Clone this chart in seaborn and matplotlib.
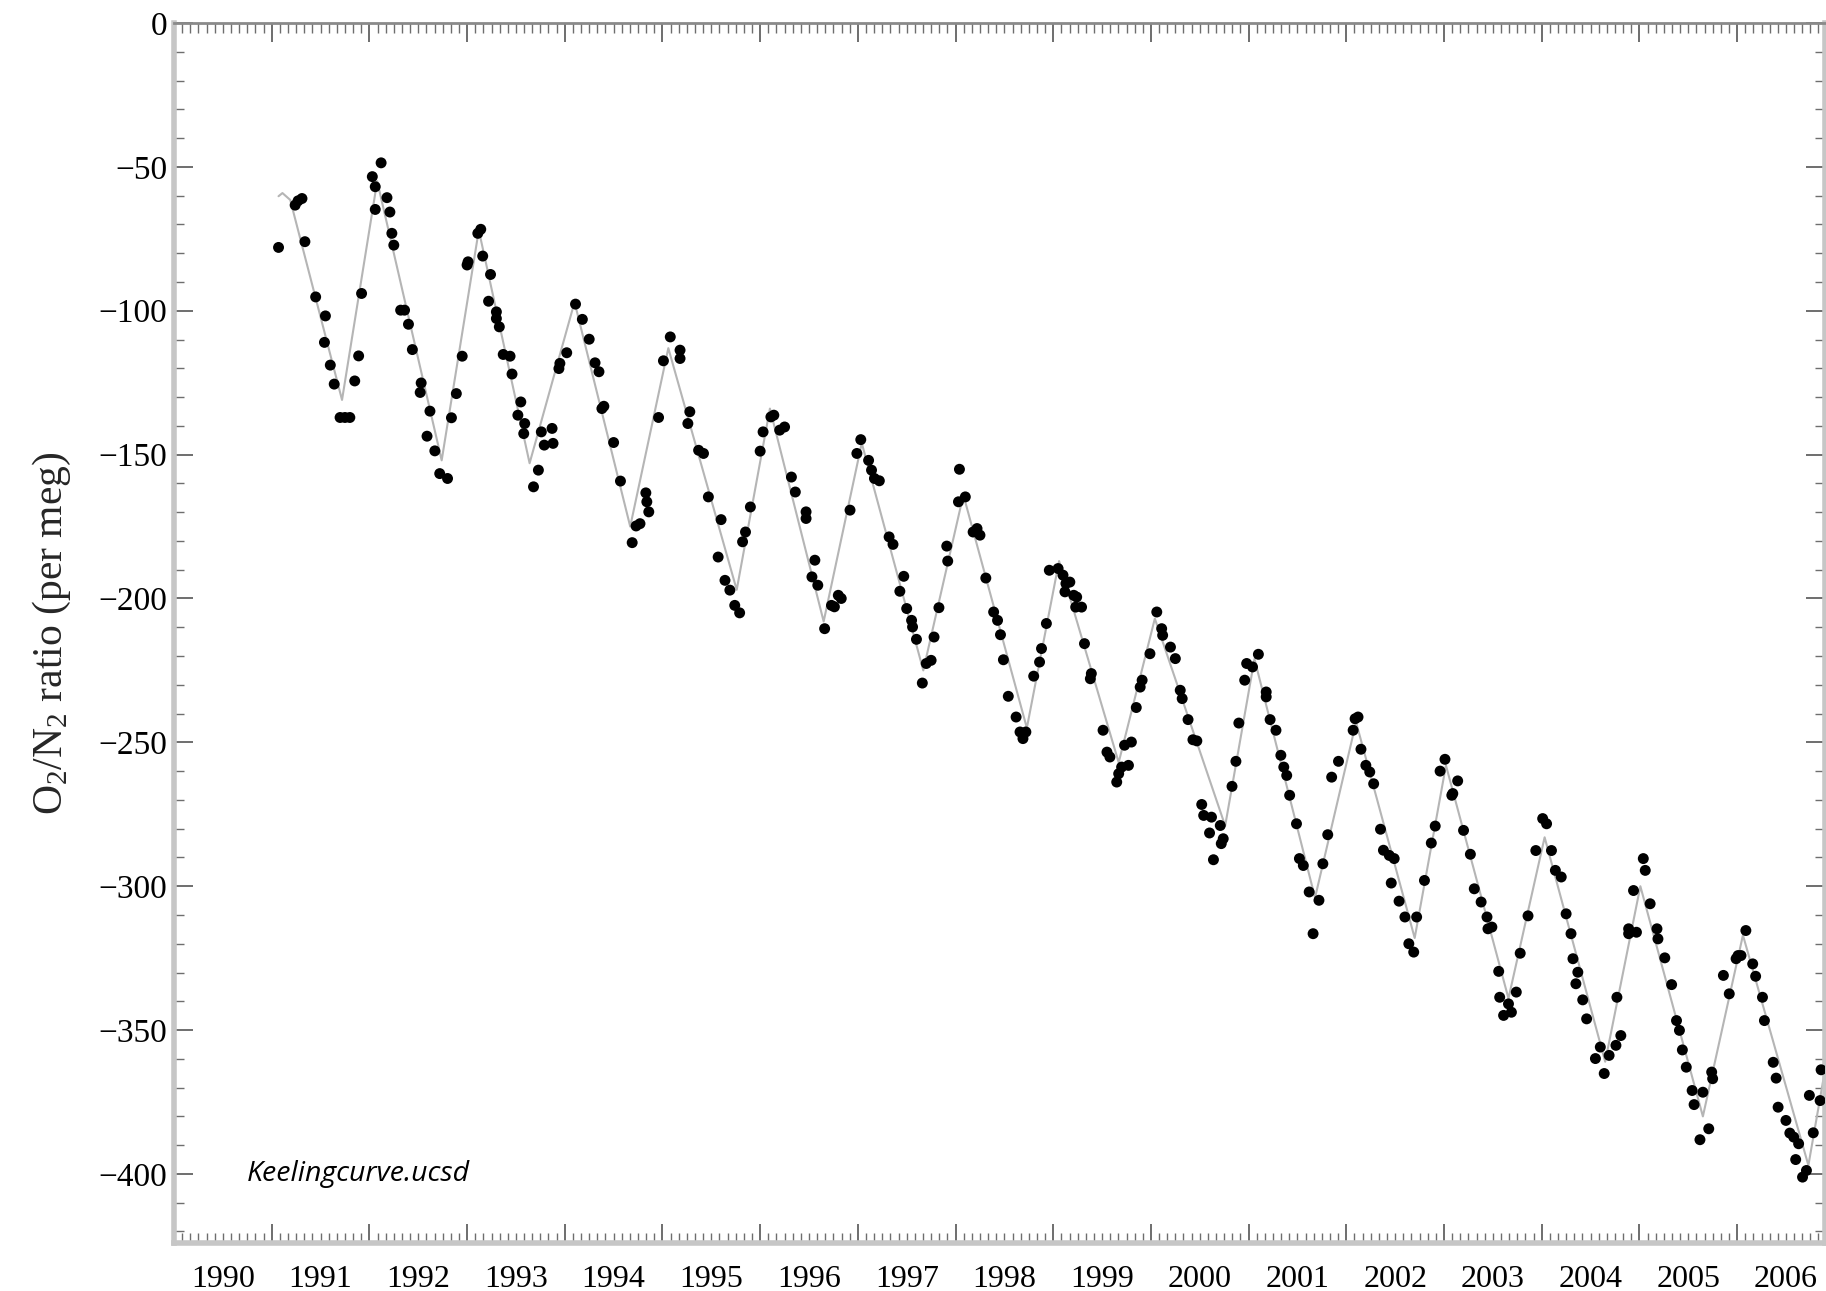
import numpy as np
import pandas as pd
import matplotlib
matplotlib.use("Agg")
import matplotlib.pyplot as plt
import seaborn as sns
from matplotlib.ticker import MultipleLocator, NullLocator

# Flask samples: decimal year and O2/N2 ratio (per meg)
obs_year = [
    1991.07, 1991.24, 1991.27, 1991.31, 1991.34, 1991.45, 1991.55, 1991.54, 1991.60, 1991.64,
    1991.70, 1991.75, 1991.80, 1991.85, 1991.89, 1991.92,
    1992.03, 1992.06, 1992.06, 1992.12, 1992.18, 1992.21, 1992.23, 1992.25, 1992.32, 1992.36,
    1992.40, 1992.44, 1992.52, 1992.53, 1992.59, 1992.62, 1992.67, 1992.72, 1992.80, 1992.84,
    1992.89, 1992.95,
    1993.00, 1993.01, 1993.11, 1993.14, 1993.16, 1993.22, 1993.24, 1993.30, 1993.30, 1993.33,
    1993.37, 1993.44, 1993.46, 1993.52, 1993.55, 1993.58, 1993.59, 1993.68, 1993.73, 1993.76,
    1993.79, 1993.87, 1993.88, 1993.94, 1993.95,
    1994.02, 1994.11, 1994.18, 1994.25, 1994.31, 1994.35, 1994.38, 1994.40, 1994.50, 1994.57,
    1994.69, 1994.73, 1994.77, 1994.83, 1994.84, 1994.86, 1994.96,
    1995.01, 1995.08, 1995.18, 1995.18, 1995.26, 1995.28, 1995.37, 1995.42, 1995.47, 1995.57,
    1995.60, 1995.64, 1995.69, 1995.74, 1995.79, 1995.82, 1995.85, 1995.90,
    1996.00, 1996.03, 1996.11, 1996.14, 1996.20, 1996.25, 1996.32, 1996.36, 1996.47, 1996.47,
    1996.53, 1996.56, 1996.59, 1996.66, 1996.73, 1996.76, 1996.80, 1996.83, 1996.92, 1996.99,
    1997.03, 1997.11, 1997.14, 1997.17, 1997.22, 1997.32, 1997.36, 1997.43, 1997.47, 1997.50,
    1997.55, 1997.56, 1997.60, 1997.66, 1997.70, 1997.75, 1997.78, 1997.83, 1997.91, 1997.92,
    1998.03, 1998.04, 1998.10, 1998.18, 1998.22, 1998.25, 1998.31, 1998.39, 1998.43, 1998.46,
    1998.49, 1998.54, 1998.62, 1998.66, 1998.69, 1998.72, 1998.80, 1998.86, 1998.88, 1998.93,
    1998.96,
    1999.05, 1999.10, 1999.12, 1999.13, 1999.17, 1999.21, 1999.23, 1999.24, 1999.29, 1999.32,
    1999.38, 1999.39, 1999.51, 1999.55, 1999.58, 1999.65, 1999.67, 1999.70, 1999.73, 1999.77,
    1999.80, 1999.85, 1999.89, 1999.91, 1999.99,
    2000.06, 2000.11, 2000.12, 2000.20, 2000.25, 2000.30, 2000.32, 2000.38, 2000.43, 2000.47,
    2000.52, 2000.54, 2000.60, 2000.62, 2000.64, 2000.71, 2000.72, 2000.74, 2000.83, 2000.87,
    2000.90, 2000.96, 2000.98,
    2001.04, 2001.10, 2001.18, 2001.18, 2001.22, 2001.28, 2001.33, 2001.36, 2001.39, 2001.42,
    2001.49, 2001.52, 2001.56, 2001.62, 2001.66, 2001.72, 2001.76, 2001.81, 2001.85, 2001.92,
    2002.07, 2002.09, 2002.12, 2002.15, 2002.20, 2002.24, 2002.28, 2002.35, 2002.38, 2002.44,
    2002.46, 2002.49, 2002.54, 2002.60, 2002.64, 2002.69, 2002.72, 2002.80, 2002.87, 2002.91,
    2002.96,
    2003.01, 2003.08, 2003.09, 2003.14, 2003.20, 2003.27, 2003.31, 2003.38, 2003.44, 2003.45,
    2003.49, 2003.56, 2003.57, 2003.61, 2003.66, 2003.69, 2003.74, 2003.78, 2003.86, 2003.94,
    2004.01, 2004.05, 2004.10, 2004.14, 2004.20, 2004.25, 2004.30, 2004.32, 2004.35, 2004.37,
    2004.42, 2004.46, 2004.55, 2004.60, 2004.64, 2004.69, 2004.76, 2004.77, 2004.81, 2004.89,
    2004.89, 2004.94, 2004.97,
    2005.04, 2005.06, 2005.11, 2005.18, 2005.19, 2005.26, 2005.33, 2005.38, 2005.41, 2005.44,
    2005.48, 2005.54, 2005.56, 2005.62, 2005.65, 2005.71, 2005.74, 2005.75, 2005.86, 2005.92,
    2005.99,
    2006.01, 2006.04, 2006.09, 2006.16, 2006.19, 2006.26, 2006.28, 2006.37, 2006.40, 2006.42,
    2006.50, 2006.54, 2006.58, 2006.60, 2006.63, 2006.67, 2006.71, 2006.74, 2006.78, 2006.85,
    2006.86,
]
obs_ratio = [
    -78.0, -63.3, -61.8, -61.0, -76.0, -95.2, -101.8, -111.0, -118.9, -125.5,
    -137.1, -137.1, -137.1, -124.4, -115.7, -94.0,
    -53.4, -56.9, -64.8, -48.6, -60.7, -65.7, -73.1, -77.2, -99.8, -99.8,
    -104.7, -113.5, -128.4, -125.1, -143.6, -134.9, -148.7, -156.6, -158.3, -137.2,
    -128.8, -115.8,
    -84.1, -83.0, -73.1, -71.7, -81.0, -96.7, -87.4, -100.4, -102.7, -105.6,
    -115.2, -115.8, -122.0, -136.3, -131.7, -142.7, -139.2, -161.2, -155.4, -142.1,
    -146.7, -140.9, -146.1, -120.1, -118.3,
    -114.6, -97.7, -103.0, -109.9, -118.1, -121.2, -134.0, -133.2, -145.8, -159.2,
    -180.6, -174.8, -174.0, -163.3, -166.4, -169.9, -137.1,
    -117.4, -109.1, -113.7, -116.6, -139.2, -135.1, -148.5, -149.6, -164.7, -185.6,
    -172.6, -193.7, -197.1, -202.4, -205.0, -180.3, -176.9, -168.2,
    -148.8, -142.1, -136.9, -136.3, -141.5, -140.4, -157.8, -163.0, -169.9, -172.2,
    -192.5, -186.7, -195.4, -210.5, -202.4, -202.9, -198.9, -200.0, -169.3, -149.6,
    -144.8, -152.0, -155.4, -158.3, -159.1, -178.6, -181.2, -197.5, -192.3, -203.5,
    -207.6, -209.9, -214.2, -229.4, -222.6, -221.5, -213.4, -203.2, -181.8, -187.0,
    -166.4, -155.1, -164.7, -176.9, -175.7, -178.0, -192.9, -204.7, -207.6, -212.6,
    -221.3, -234.0, -241.2, -246.4, -248.7, -246.4, -227.0, -222.1, -217.4, -208.7,
    -190.2,
    -189.6, -191.9, -197.7, -194.8, -194.3, -198.9, -203.0, -199.5, -203.0, -215.7,
    -227.9, -226.1, -245.8, -253.4, -255.1, -263.8, -260.9, -258.6, -251.0, -258.0,
    -249.9, -237.9, -230.8, -228.4, -219.2,
    -204.7, -210.5, -212.8, -216.9, -220.9, -231.9, -234.8, -242.1, -249.1, -249.5,
    -271.6, -275.4, -281.5, -276.0, -290.8, -278.9, -285.2, -283.5, -265.3, -256.6,
    -243.3, -228.4, -222.6,
    -223.8, -219.4, -232.5, -234.2, -242.1, -245.8, -254.5, -258.6, -261.5, -268.4,
    -278.3, -290.4, -292.8, -302.0, -316.5, -304.9, -292.2, -282.1, -262.1, -256.6,
    -245.8, -241.8, -241.2, -252.4, -258.0, -260.3, -264.4, -280.2, -287.5, -289.3,
    -298.9, -290.4, -305.2, -310.7, -320.0, -322.9, -310.7, -298.0, -285.0, -279.1,
    -260.0,
    -255.9, -268.4, -267.8, -263.4, -280.6, -288.9, -300.9, -305.5, -310.7, -314.8,
    -314.2, -329.6, -338.6, -344.9, -340.9, -343.8, -336.8, -323.3, -310.3, -287.6,
    -276.5, -278.3, -287.6, -294.5, -296.8, -309.6, -316.5, -325.2, -333.9, -329.9,
    -339.5, -346.1, -359.9, -355.9, -365.1, -358.8, -355.3, -338.6, -351.9, -316.5,
    -314.8, -301.5, -316.0,
    -290.4, -294.5, -306.1, -314.8, -318.3, -324.9, -334.2, -346.7, -350.1, -356.9,
    -362.9, -371.0, -375.9, -388.1, -371.6, -384.3, -364.6, -366.9, -331.0, -337.4,
    -325.2,
    -324.1, -324.1, -315.4, -327.0, -331.3, -338.6, -346.7, -361.2, -366.7, -376.8,
    -381.4, -385.8, -387.2, -395.0, -389.5, -401.1, -398.8, -372.7, -385.7, -374.5,
    -363.8,
]

# Fitted seasonal curve: turning points of the smooth fit
curve_year = [
    1991.07, 1991.11, 1991.19, 1991.72, 1992.08, 1992.74, 1993.12, 1993.64, 1994.10, 1994.67,
    1995.06, 1995.76, 1996.10, 1996.65, 1997.04, 1997.67, 1998.08, 1998.73, 1999.06, 1999.67,
    2000.04, 2000.76, 2001.06, 2001.68, 2002.10, 2002.70, 2003.02, 2003.66, 2004.03, 2004.65,
    2005.01, 2005.65, 2006.06, 2006.73, 2006.92,
]
curve_ratio = [
    -60.2, -59.1, -61.5, -131.0, -55.0, -152.0, -72.0, -153.0, -97.0, -175.0,
    -113.0, -197.0, -134.0, -208.0, -146.0, -225.0, -164.0, -245.0, -187.0, -257.0,
    -207.0, -279.0, -221.0, -304.0, -243.0, -318.0, -258.0, -339.0, -283.0, -361.0,
    -300.0, -380.0, -317.0, -397.0, -360.0,
]

year_labels = list(range(1990, 2007))
y_ticks = list(range(-400, 1, 50))

sns.set_style("ticks")
plt.rcParams["font.family"] = ["Liberation Serif", "DejaVu Serif"]
plt.rcParams["mathtext.fontset"] = "custom"
plt.rcParams["mathtext.rm"] = "Liberation Serif"
plt.rcParams["mathtext.it"] = "Liberation Serif:italic"
plt.rcParams["axes.unicode_minus"] = True

obs = pd.DataFrame({"year": obs_year, "ratio": obs_ratio})
fit = pd.DataFrame({"year": curve_year, "ratio": curve_ratio})

fig = plt.figure(figsize=(18.26, 12.91), dpi=100)
ax = fig.add_axes([174 / 1826, 48 / 1291, 1651 / 1826, 1220 / 1291])

sns.lineplot(data=fit, x="year", y="ratio", ax=ax, color="#b5b5b5", lw=1.5,
             sort=False, estimator=None, zorder=2)
sns.scatterplot(data=obs, x="year", y="ratio", ax=ax, color="black", s=62,
                edgecolor="none", linewidth=0, zorder=3)

ax.set_xlim(1990, 2006.9)
ax.set_ylim(-424, 0)
ax.set_xlabel("")

# y axis: majors every 50, minors every 10, ticks pointing inward on both sides
ax.set_yticks(y_ticks)
ax.yaxis.set_minor_locator(MultipleLocator(10))
# x axis: year boundaries as majors, monthly minors
ax.xaxis.set_major_locator(MultipleLocator(1))
ax.xaxis.set_minor_locator(MultipleLocator(1 / 12))
ax.tick_params(which="both", direction="in", top=True, right=True,
               color="#6e6e6e")
ax.tick_params(which="major", length=14, width=1.4)
ax.tick_params(which="minor", length=7, width=1.0)
ax.tick_params(axis="x", labelbottom=False)
ax.tick_params(axis="y", labelsize=24, labelcolor="black", pad=5)

# year names centred within each year
sec = ax.secondary_xaxis("bottom")
sec.set_xticks([y + 0.5 for y in year_labels], labels=[str(y) for y in year_labels])
sec.xaxis.set_minor_locator(NullLocator())
sec.tick_params(length=0, pad=16, labelsize=23, labelcolor="black")
sec.spines["bottom"].set_visible(False)

for side in ("left", "bottom", "right"):
    ax.spines[side].set_color("#c6c6c6")
    ax.spines[side].set_linewidth(4.0)
ax.spines["top"].set_color("#8a8a8a")
ax.spines["top"].set_linewidth(2.0)

ax.set_ylabel(r"O$_\mathregular{2}$/N$_\mathregular{2}$ ratio (per meg)",
              fontsize=30, labelpad=18)

ax.text(1990.75, -400, "Keelingcurve.ucsd", family=["Open Sans", "DejaVu Sans"],
        fontstyle="italic", fontsize=20.5, va="center", ha="left", color="black")

fig.savefig("out.png", dpi=100, facecolor="white")
